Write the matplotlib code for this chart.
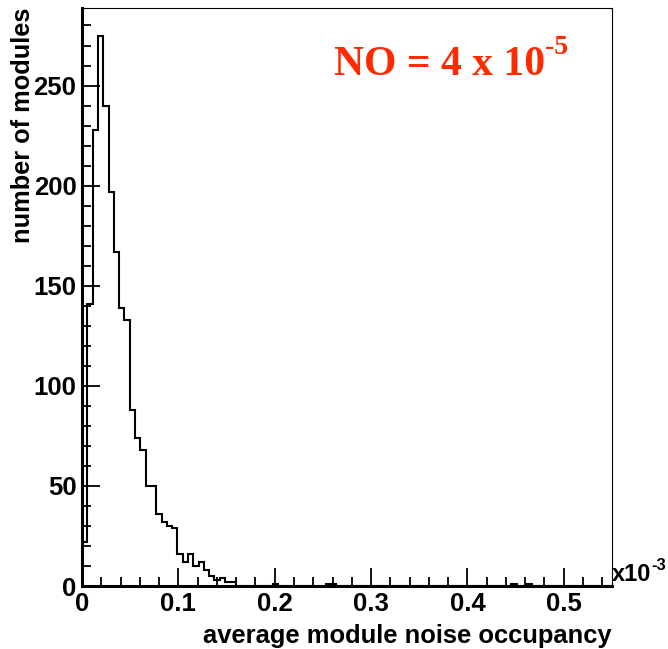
import numpy as np
import matplotlib
matplotlib.use("Agg")
import matplotlib.pyplot as plt
from matplotlib.ticker import MultipleLocator

# histogram: 100 bins over 0 - 0.55 (x 10^-3)
n_bins = 100
x_max = 0.55
peak_counts = [22, 141, 228, 275, 240, 197, 167, 139, 133, 88,
               74, 68, 50, 50, 36, 32, 30, 29, 16, 12,
               16, 10, 12, 8, 5, 3, 4, 2, 2]
tail_bins = [36, 46, 47, 81, 84]
tail_counts = [1, 1, 1, 1, 1]

y_ticks = [0, 50, 100, 150, 200, 250]
x_ticks = [0, 0.1, 0.2, 0.3, 0.4, 0.5]
x_tick_labels = ["0", "0.1", "0.2", "0.3", "0.4", "0.5"]

counts = np.zeros(n_bins)
counts[:len(peak_counts)] = peak_counts
counts[tail_bins] = tail_counts
edges = np.linspace(0, x_max, n_bins + 1)

fig = plt.figure(figsize=(6.68, 6.49), dpi=100)
ax = fig.add_axes([0.1228, 0.097, 0.7932, 0.8907])

ax.stairs(counts, edges, color="black", linewidth=1.5, baseline=0)

ax.set_xlim(0, x_max)
ax.set_ylim(0, 1.05 * max(counts))

ax.set_xticks(x_ticks)
ax.set_xticklabels(x_tick_labels)
ax.set_yticks(y_ticks)
ax.xaxis.set_minor_locator(MultipleLocator(0.02))
ax.yaxis.set_minor_locator(MultipleLocator(10))

ax.tick_params(which="both", direction="in", width=1.3, top=False, right=False)
ax.tick_params(which="major", length=13, labelsize=18.5, pad=4)
ax.tick_params(which="minor", length=6.5)
for lab in ax.get_xticklabels() + ax.get_yticklabels():
    lab.set_fontfamily("Liberation Sans")
    lab.set_fontweight("bold")

for side in ["left", "bottom"]:
    ax.spines[side].set_linewidth(2.2)
for side in ["top", "right"]:
    ax.spines[side].set_linewidth(0.8)

ax.set_ylabel("number of modules", loc="top", fontsize=18.3,
              fontfamily="Liberation Sans", fontweight="bold")
ax.yaxis.set_label_coords(-0.089, 1.0)
ax.set_xlabel("average module noise occupancy", loc="right", fontsize=18.4,
              fontfamily="Liberation Sans", fontweight="bold", labelpad=6)

# x10^-3 axis multiplier
t_mult = ax.text(1.0, 0.0, "x10", transform=ax.transAxes, ha="left", va="bottom",
                 fontsize=17, fontfamily="Liberation Sans", fontweight="bold")
ax.annotate("-3", xy=(1.0, 0.55), xycoords=t_mult, ha="left", va="bottom",
            fontsize=12, fontfamily="Liberation Sans", fontweight="bold")

# NO annotation
t_no = ax.text(0.475, 0.884, "NO = 4 x 10", transform=ax.transAxes,
               ha="left", va="baseline", fontsize=30, color="#ff2a00",
               fontfamily="Liberation Serif", fontweight="bold")
ax.annotate("-5", xy=(1.0, 0.62), xycoords=t_no, ha="left", va="bottom",
            fontsize=20, color="#ff2a00",
            fontfamily="Liberation Serif", fontweight="bold")

fig.savefig("out.png", dpi=100)
